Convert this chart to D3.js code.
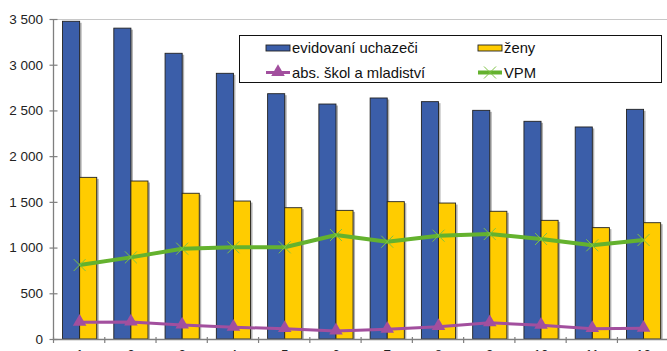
<!DOCTYPE html>
<html><head><meta charset="utf-8">
<script src="https://cdn.jsdelivr.net/npm/d3@7"></script>
<style>
html,body{margin:0;padding:0;background:#fff;overflow:hidden;}
svg{display:block;font-family:"Liberation Sans",Arial,sans-serif;}
</style></head>
<body>
<svg id="chart" width="667" height="351"></svg>
<script>
const months = ["1","2","3","4","5","6","7","8","9","10","11","12"];
const uchazeci = [3475, 3400, 3125, 2906, 2683, 2570, 2636, 2596, 2501, 2381, 2319, 2512];
const zeny = [1768, 1728, 1594, 1509, 1436, 1407, 1502, 1487, 1397, 1298, 1218, 1272];
const absolventi = [183, 186, 153, 128, 113, 88, 106, 135, 178, 150, 113, 117];
const vpm = [809, 893, 988, 1003, 1003, 1137, 1064, 1130, 1148, 1094, 1025, 1083];
const yTicks = [0, 500, 1000, 1500, 2000, 2500, 3000, 3500];
const legendLabels = ["evidovaní uchazeči", "ženy", "abs. škol a mladiství", "VPM"];

const svg = d3.select("#chart");
const x = d3.scaleBand().domain(months).range([53, 668.2]).paddingInner(0).paddingOuter(0);
const y = d3.scaleLinear().domain([0, 3500]).range([339, 19]);
const bw = x.bandwidth();
const barW = bw / 3;
const cx = d => x(d) + bw / 2 + 1;
const fmt = v => v >= 1000 ? d3.format(",")(v).replace(",", " ") : String(v);

const blue = "#3B5EA9", yellow = "#FFCC00", purple = "#A24F9E", green = "#64B22E";

// top gridline
svg.append("line").attr("x1", 53.5).attr("x2", 667).attr("y1", y(3500) + 0.5).attr("y2", y(3500) + 0.5)
  .attr("stroke", "#c8c8c8").attr("stroke-width", 1);

// bars with shadows
const series = [{vals: uchazeci, col: blue, off: -barW}, {vals: zeny, col: yellow, off: 0}];
series.forEach(s => {
  svg.append("g").selectAll("rect").data(months).join("rect")
    .attr("x", (d) => cx(d) + s.off + 2)
    .attr("y", (d, i) => y(s.vals[i]) + 1.5)
    .attr("width", barW)
    .attr("height", (d, i) => y(0) - y(s.vals[i]) - 1.5)
    .attr("fill", "#b0b0b0");
});
series.forEach(s => {
  svg.append("g").selectAll("rect").data(months).join("rect")
    .attr("x", (d) => cx(d) + s.off)
    .attr("y", (d, i) => y(s.vals[i]))
    .attr("width", barW)
    .attr("height", (d, i) => y(0) - y(s.vals[i]))
    .attr("fill", s.col)
    .attr("stroke", "#222").attr("stroke-width", 0.9);
});

// y axis
const yAxis = svg.append("g");
yAxis.append("line").attr("x1", 53.5).attr("x2", 53.5).attr("y1", y(3500)).attr("y2", y(0))
  .attr("stroke", "#7f7f7f").attr("stroke-width", 1.3);
yAxis.selectAll("line.t").data(yTicks).join("line").attr("class", "t")
  .attr("x1", 49.5).attr("x2", 57.5).attr("y1", d => y(d) + 0.5).attr("y2", d => y(d) + 0.5)
  .attr("stroke", "#7f7f7f").attr("stroke-width", 1.2);
yAxis.selectAll("text").data(yTicks).join("text")
  .attr("x", 43).attr("y", d => y(d)).attr("dy", "0.36em")
  .attr("text-anchor", "end").attr("font-size", 13.5).attr("fill", "#222")
  .text(fmt);

// x axis
const xAxis = svg.append("g");
xAxis.append("line").attr("x1", 53).attr("x2", 667).attr("y1", y(0) + 0.5).attr("y2", y(0) + 0.5)
  .attr("stroke", "#7f7f7f").attr("stroke-width", 1.3);
xAxis.selectAll("line.t").data(months).join("line").attr("class", "t")
  .attr("x1", d => x(d) + 0.5).attr("x2", d => x(d) + 0.5).attr("y1", y(0) - 2).attr("y2", y(0) + 4)
  .attr("stroke", "#7f7f7f").attr("stroke-width", 1.2);
xAxis.selectAll("text").data(months).join("text")
  .attr("x", d => cx(d)).attr("y", y(0) + 19.5)
  .attr("text-anchor", "middle").attr("font-size", 13.5).attr("fill", "#222")
  .text(d => d);

// lines
const line = vals => d3.line().x((d) => cx(d)).y((d, i) => y(vals[i]))(months);
svg.append("path").attr("d", line(absolventi)).attr("fill", "none").attr("stroke", purple).attr("stroke-width", 3);
svg.append("path").attr("d", line(vpm)).attr("fill", "none").attr("stroke", green).attr("stroke-width", 4)
  .attr("stroke-linejoin", "round");

const tri = d3.symbol().type(d3.symbolTriangle).size(80);
svg.append("g").selectAll("path").data(months).join("path")
  .attr("transform", (d, i) => `translate(${cx(d)},${y(absolventi[i]) - 0.5})`)
  .attr("d", tri).attr("fill", purple);

const xs = 6;
svg.append("g").selectAll("path").data(months).join("path")
  .attr("d", (d, i) => {
    const px = cx(d), py = y(vpm[i]);
    return `M${px - xs},${py - xs}L${px + xs},${py + xs}M${px - xs},${py + xs}L${px + xs},${py - xs}`;
  })
  .attr("stroke", "#7CC243").attr("stroke-width", 1).attr("fill", "none");

// legend
const lg = svg.append("g");
lg.append("rect").attr("x", 239.5).attr("y", 35.5).attr("width", 422).attr("height", 47)
  .attr("fill", "#fff").attr("stroke", "#111").attr("stroke-width", 1);
const items = [
  {lab: legendLabels[0], type: "bar", col: blue, sx: 266, ty: 48},
  {lab: legendLabels[1], type: "bar", col: yellow, sx: 478, ty: 48},
  {lab: legendLabels[2], type: "tri", col: purple, sx: 266, ty: 72.5},
  {lab: legendLabels[3], type: "x", col: green, sx: 478, ty: 72.5}
];
items.forEach(it => {
  if (it.type === "bar") {
    lg.append("rect").attr("x", it.sx).attr("y", it.ty - 3).attr("width", 24).attr("height", 6)
      .attr("fill", it.col).attr("stroke", "#222").attr("stroke-width", 0.9);
  } else if (it.type === "tri") {
    lg.append("line").attr("x1", it.sx).attr("x2", it.sx + 24).attr("y1", it.ty).attr("y2", it.ty)
      .attr("stroke", it.col).attr("stroke-width", 3);
    lg.append("path").attr("transform", `translate(${it.sx + 12},${it.ty - 0.5})`).attr("d", tri).attr("fill", it.col);
  } else {
    lg.append("line").attr("x1", it.sx).attr("x2", it.sx + 24).attr("y1", it.ty).attr("y2", it.ty)
      .attr("stroke", it.col).attr("stroke-width", 4);
    const px = it.sx + 12, py = it.ty;
    lg.append("path").attr("d", `M${px - xs},${py - xs}L${px + xs},${py + xs}M${px - xs},${py + xs}L${px + xs},${py - xs}`)
      .attr("stroke", "#7CC243").attr("stroke-width", 1);
  }
  lg.append("text").attr("x", it.sx + 26).attr("y", it.ty).attr("dy", "0.36em")
    .attr("font-size", 14.8).attr("fill", "#111").text(it.lab);
});
</script>
</body></html>
